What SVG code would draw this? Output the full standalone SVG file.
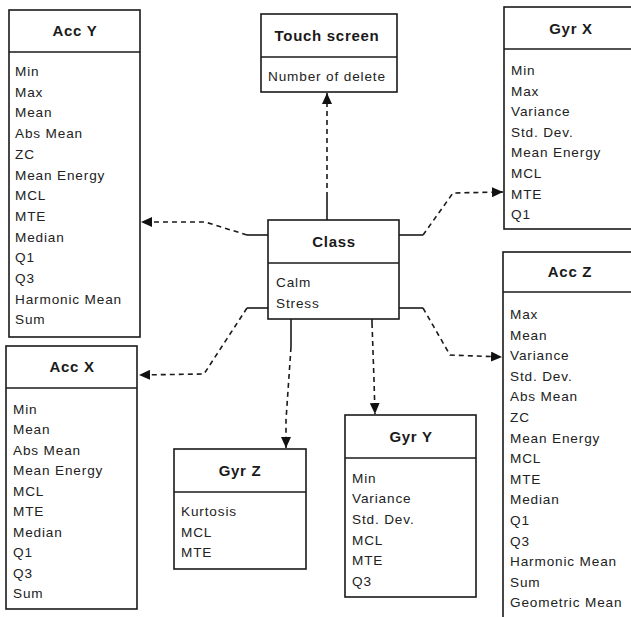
<svg xmlns="http://www.w3.org/2000/svg" width="631" height="617" viewBox="0 0 631 617">
<defs>
<style>
.box{fill:#fff;stroke:#1a1a1a;stroke-width:1.6}
.div{stroke:#1a1a1a;stroke-width:1.6}
.t{font-family:"Liberation Sans",Arial,sans-serif;font-weight:bold;font-size:15px;letter-spacing:0.7px;fill:#1a1a1a;text-anchor:middle}
.i{font-family:"Liberation Sans",Arial,sans-serif;font-size:13.6px;letter-spacing:0.85px;fill:#222}
.sol{fill:none;stroke:#1a1a1a;stroke-width:1.6}
.dash{fill:none;stroke:#1a1a1a;stroke-width:1.6;stroke-dasharray:5 4;marker-end:url(#arr)}
</style>
<marker id="arr" markerUnits="userSpaceOnUse" markerWidth="12" markerHeight="10" refX="11" refY="5" orient="auto" viewBox="0 0 12 10">
<path d="M0,0 L11,5 L0,10 z" fill="#111" stroke="none"/>
</marker>
</defs>

<g id="connectors">
<path class="sol" d="M327,220 L327,197"/>
<path class="dash" d="M327,197 L327,93"/>
<path class="sol" d="M268,235 L247,235"/>
<path class="dash" d="M247,235 L205,222 L141,222"/>
<path class="sol" d="M268,308 L247,308"/>
<path class="dash" d="M247,308 L204,374 L139,375"/>
<path class="sol" d="M399,235 L423,235"/>
<path class="dash" d="M423,235 L453,193 L503,192"/>
<path class="sol" d="M399,308 L423,308"/>
<path class="dash" d="M423,308 L450,355 L502,357"/>
<path class="sol" d="M291,319 L291,347"/>
<path class="dash" d="M291,347 L286,420 L286,448"/>
<path class="sol" d="M372,319 L372,323"/>
<path class="dash" d="M372,323 L374,380 L375,414"/>
</g>

<g id="acc-y">
<rect class="box" x="9" y="10" width="131" height="327"/>
<line class="div" x1="9" y1="52" x2="140" y2="52"/>
<text class="t" x="75" y="36">Acc Y</text>
<text class="i" x="15" y="76">Min</text>
<text class="i" x="15" y="96.7">Max</text>
<text class="i" x="15" y="117.4">Mean</text>
<text class="i" x="15" y="138.1">Abs Mean</text>
<text class="i" x="15" y="158.8">ZC</text>
<text class="i" x="15" y="179.5">Mean Energy</text>
<text class="i" x="15" y="200.2">MCL</text>
<text class="i" x="15" y="220.9">MTE</text>
<text class="i" x="15" y="241.6">Median</text>
<text class="i" x="15" y="262.3">Q1</text>
<text class="i" x="15" y="283">Q3</text>
<text class="i" x="15" y="303.7">Harmonic Mean</text>
<text class="i" x="15" y="324.4">Sum</text>
</g>

<g id="touch-screen">
<rect class="box" x="261" y="14" width="136" height="78"/>
<line class="div" x1="261" y1="57" x2="397" y2="57"/>
<text class="t" x="327" y="41">Touch screen</text>
<text class="i" x="268" y="81">Number of delete</text>
</g>

<g id="gyr-x">
<rect class="box" x="504" y="7" width="140" height="222"/>
<line class="div" x1="504" y1="49" x2="644" y2="49"/>
<text class="t" x="571" y="34">Gyr X</text>
<text class="i" x="511" y="75">Min</text>
<text class="i" x="511" y="95.6">Max</text>
<text class="i" x="511" y="116.2">Variance</text>
<text class="i" x="511" y="136.8">Std. Dev.</text>
<text class="i" x="511" y="157.4">Mean Energy</text>
<text class="i" x="511" y="178">MCL</text>
<text class="i" x="511" y="198.6">MTE</text>
<text class="i" x="511" y="219.2">Q1</text>
</g>

<g id="class">
<rect class="box" x="268" y="220" width="131" height="99"/>
<line class="div" x1="268" y1="263" x2="399" y2="263"/>
<text class="t" x="334" y="247">Class</text>
<text class="i" x="276" y="287">Calm</text>
<text class="i" x="276" y="308">Stress</text>
</g>

<g id="acc-z">
<rect class="box" x="503" y="252" width="141" height="380"/>
<line class="div" x1="503" y1="292" x2="644" y2="292"/>
<text class="t" x="570" y="277">Acc Z</text>
<text class="i" x="510" y="319">Max</text>
<text class="i" x="510" y="339.6">Mean</text>
<text class="i" x="510" y="360.2">Variance</text>
<text class="i" x="510" y="380.8">Std. Dev.</text>
<text class="i" x="510" y="401.4">Abs Mean</text>
<text class="i" x="510" y="422">ZC</text>
<text class="i" x="510" y="442.6">Mean Energy</text>
<text class="i" x="510" y="463.2">MCL</text>
<text class="i" x="510" y="483.8">MTE</text>
<text class="i" x="510" y="504.4">Median</text>
<text class="i" x="510" y="525">Q1</text>
<text class="i" x="510" y="545.6">Q3</text>
<text class="i" x="510" y="566.2">Harmonic Mean</text>
<text class="i" x="510" y="586.8">Sum</text>
<text class="i" x="510" y="607.4">Geometric Mean</text>
</g>

<g id="acc-x">
<rect class="box" x="6" y="346" width="131" height="263"/>
<line class="div" x1="6" y1="388" x2="137" y2="388"/>
<text class="t" x="72" y="372">Acc X</text>
<text class="i" x="13" y="413.5">Min</text>
<text class="i" x="13" y="434">Mean</text>
<text class="i" x="13" y="454.5">Abs Mean</text>
<text class="i" x="13" y="475">Mean Energy</text>
<text class="i" x="13" y="495.5">MCL</text>
<text class="i" x="13" y="516">MTE</text>
<text class="i" x="13" y="536.5">Median</text>
<text class="i" x="13" y="557">Q1</text>
<text class="i" x="13" y="577.5">Q3</text>
<text class="i" x="13" y="598">Sum</text>
</g>

<g id="gyr-z">
<rect class="box" x="174" y="449" width="132" height="120"/>
<line class="div" x1="174" y1="492" x2="306" y2="492"/>
<text class="t" x="240" y="476">Gyr Z</text>
<text class="i" x="181" y="516">Kurtosis</text>
<text class="i" x="181" y="536.7">MCL</text>
<text class="i" x="181" y="557.4">MTE</text>
</g>

<g id="gyr-y">
<rect class="box" x="345" y="415" width="131" height="182"/>
<line class="div" x1="345" y1="458" x2="476" y2="458"/>
<text class="t" x="411" y="442">Gyr Y</text>
<text class="i" x="352" y="482.5">Min</text>
<text class="i" x="352" y="503.2">Variance</text>
<text class="i" x="352" y="523.9">Std. Dev.</text>
<text class="i" x="352" y="544.6">MCL</text>
<text class="i" x="352" y="565.3">MTE</text>
<text class="i" x="352" y="586">Q3</text>
</g>
</svg>
